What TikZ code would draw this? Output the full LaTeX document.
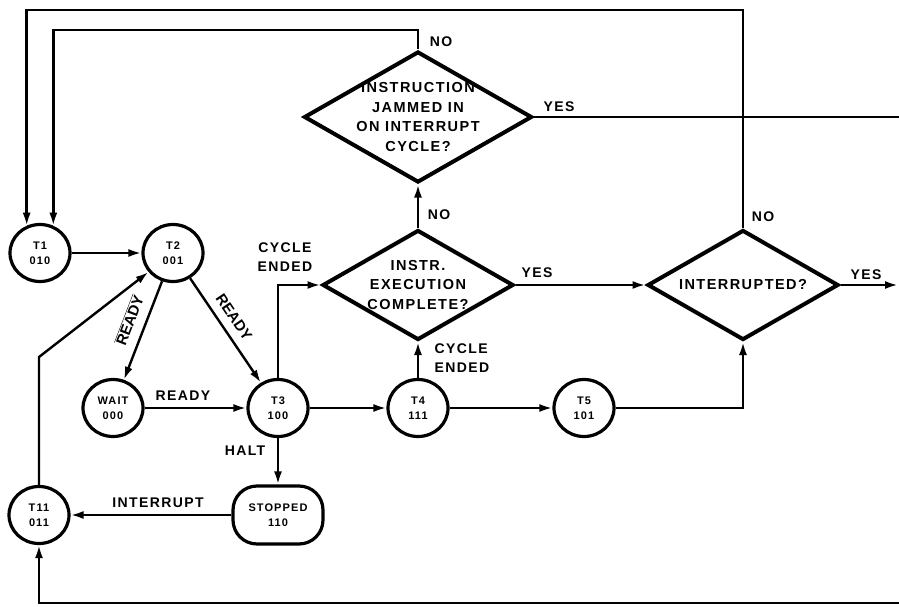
\documentclass[tikz,border=0pt]{standalone}
\usepackage{fontspec}
\newfontfamily\lbf{Liberation Sans}[LetterSpace=10]
\newfontfamily\lbfn{Liberation Sans}
\usetikzlibrary{arrows.meta,shapes.geometric}
\begin{document}
\begin{tikzpicture}[x=1pt,y=-1pt,
  state/.style={ellipse,draw,line width=3.2pt,minimum width=60pt,minimum height=57pt,inner sep=0pt,align=center,font=\lbf\bfseries\fontsize{11}{15}\selectfont},
  stopbox/.style={rectangle,rounded corners=24pt,draw,line width=3.2pt,minimum width=90pt,minimum height=58pt,inner sep=0pt,align=center,font=\lbf\bfseries\fontsize{11}{15}\selectfont},
  dia/.style={diamond,draw,line width=4pt,inner sep=0pt},
  dtext/.style={align=center,inner sep=0pt,font=\lbf\bfseries\fontsize{14.5}{19.5}\selectfont},
  lbl/.style={font=\lbf\bfseries\fontsize{14}{19}\selectfont,inner sep=0pt,align=center},
  rlbl/.style={font=\lbfn\bfseries\fontsize{15}{19}\selectfont,inner sep=0pt},
  conn/.style={line width=2.4pt},
  arr/.style={conn,-{Latex[length=13pt,width=8pt]}},
]
\useasboundingbox (0,0) rectangle (899,607);

% states
\node[state] (T1) at (40,253) {T1\\010};
\node[state] (T2) at (173,253) {T2\\001};
\node[state] (WAIT) at (113,408) {WAIT\\000};
\node[state] (T3) at (278,408) {T3\\100};
\node[state] (T4) at (418,408) {T4\\111};
\node[state] (T5) at (584,408) {T5\\101};
\node[state] (T11) at (39,515) {T11\\011};
\node[stopbox] (STOP) at (278,515) {STOPPED\\110};

% decisions
\node[dia,minimum width=228pt,minimum height=131pt] (D1) at (418,117) {};
\node[dtext] (D1t) at (D1) {INSTRUCTION\\JAMMED IN\\ON INTERRUPT\\CYCLE?};
\node[dia,minimum width=191pt,minimum height=110pt] (D2) at (418,285) {};
\node[dtext] (D2t) at (D2) {INSTR.\\EXECUTION\\COMPLETE?};
\node[dia,minimum width=191pt,minimum height=110pt] (D3) at (743,285) {};
\node[dtext] (D3t) at (D3) {INTERRUPTED?};

% helper coordinates
\coordinate (o1) at (743,10);
\coordinate (o2) at (T1.116 |- o1);
\coordinate (i1) at (418,30);
\coordinate (i2) at (T1.64 |- i1);
\coordinate (yesout) at (899,117);
\coordinate (yes3) at (898,285);
\coordinate (bin) at (899,603);
\coordinate (bc) at (T11.south |- bin);
\coordinate (bend) at (39,357);

% connectors
\draw[arr] (D3.north) -- (o1) -- (o2) -- (T1.116);
\draw[arr] (D1.north) -- (i1) -- (i2) -- (T1.64);
\draw[conn] (D1.east) -- (yesout);
\draw[arr] (D3.east) -- (yes3);
\draw[arr] (D2.north) -- (D1.south);
\draw[arr] (T4.north) -- (D2.south);
\draw[arr] (T3.north) |- (D2.west);
\draw[arr] (D2.east) -- (D3.west);
\draw[arr] (T5.east) -| (D3.south);
\draw[arr] (T1) -- (T2);
\draw[arr] (T2) -- (WAIT);
\draw[arr] (T2) -- (T3);
\draw[arr] (WAIT) -- (T3);
\draw[arr] (T3) -- (T4);
\draw[arr] (T4) -- (T5);
\draw[arr] (T3.south) -- (STOP.north);
\draw[arr] (STOP.west) -- (T11.east);
\draw[arr] (bin) -- (bc) -- (T11.south);
\draw[arr] (T11.north) -- (bend) -- (T2);

% labels
\node[lbl] (l1) at (441,42) {NO};
\node[lbl] (l2) at (559,107) {YES};
\node[lbl] (l3) at (439,215) {NO};
\node[lbl] (l4) at (537,273) {YES};
\node[lbl] (l5) at (866,275) {YES};
\node[lbl] (l6) at (763,217) {NO};
\node[lbl,align=center] (l7) at (285,257) {CYCLE\\ENDED};
\node[lbl,align=left] (l8) at (462,358) {CYCLE\\ENDED};
\node[lbl] (l9) at (183,396) {READY};
\node[lbl] (l10) at (245,451) {HALT};
\node[lbl] (l11) at (158,503) {INTERRUPT};
\node[rlbl,rotate=69] (l12) at (129,320) {$\overline{\mbox{READY}}$};
\node[rlbl,rotate=-56] (l13) at (234,317) {READY};
\end{tikzpicture}
\end{document}
